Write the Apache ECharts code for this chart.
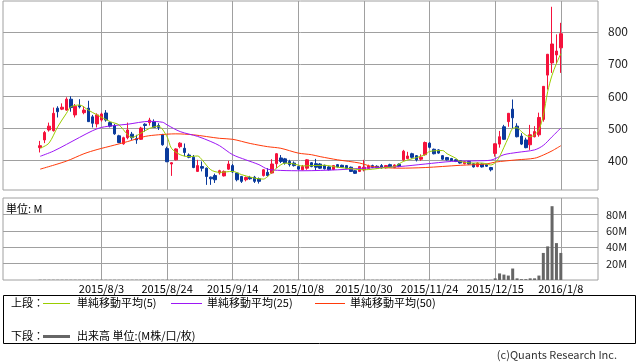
<!DOCTYPE html>
<html><head><meta charset="utf-8">
<script src="https://cdn.jsdelivr.net/npm/echarts@6/dist/echarts.min.js"></script>
<style>html,body{margin:0;padding:0;background:#fff}#c{width:638px;height:362px}</style>
</head><body><div id="c"></div><script>
const dates = [
'2015/7/13','2015/7/14','2015/7/15','2015/7/16','2015/7/17','2015/7/21','2015/7/22','2015/7/23','2015/7/24','2015/7/27','2015/7/28','2015/7/29','2015/7/30','2015/7/31',
'2015/8/3','2015/8/4','2015/8/5','2015/8/6','2015/8/7','2015/8/10','2015/8/11','2015/8/12','2015/8/13','2015/8/14','2015/8/17','2015/8/18','2015/8/19','2015/8/20','2015/8/21','2015/8/24','2015/8/25','2015/8/26','2015/8/27','2015/8/28','2015/8/31',
'2015/9/1','2015/9/2','2015/9/3','2015/9/4','2015/9/7','2015/9/8','2015/9/9','2015/9/10','2015/9/11','2015/9/14','2015/9/15','2015/9/16','2015/9/17','2015/9/18','2015/9/24','2015/9/25','2015/9/28','2015/9/29','2015/9/30',
'2015/10/1','2015/10/2','2015/10/5','2015/10/6','2015/10/7','2015/10/8','2015/10/9','2015/10/13','2015/10/14','2015/10/15','2015/10/16','2015/10/19','2015/10/20','2015/10/21','2015/10/22','2015/10/23','2015/10/26','2015/10/27','2015/10/28','2015/10/29','2015/10/30',
'2015/11/2','2015/11/4','2015/11/5','2015/11/6','2015/11/9','2015/11/10','2015/11/11','2015/11/12','2015/11/13','2015/11/16','2015/11/17','2015/11/18','2015/11/19','2015/11/20','2015/11/24','2015/11/25','2015/11/26','2015/11/27','2015/11/30',
'2015/12/1','2015/12/2','2015/12/3','2015/12/4','2015/12/7','2015/12/8','2015/12/9','2015/12/10','2015/12/11','2015/12/14','2015/12/15','2015/12/16','2015/12/17','2015/12/18','2015/12/21','2015/12/22','2015/12/24','2015/12/25','2015/12/28','2015/12/29','2015/12/30',
'2016/1/4','2016/1/5','2016/1/6','2016/1/7','2016/1/8'
];
// [open, close, low, high]
const ohlc = [
[439,445,424,460],[463,486,453,491],[494,506,489,517],[492,546,489,564],[562,551,533,568],
[559,565,556,577],[556,590,554,596],[590,564,551,599],[541,568,533,575],[570,566,561,590],
[548,556,543,568],[562,520,520,585],[535,515,502,541],[513,541,502,546],[525,544,520,548],
[547,525,520,556],[517,506,502,520],[508,482,479,513],[476,455,453,479],[451,470,448,473],
[470,494,465,517],[481,470,463,488],[467,463,451,479],[465,500,463,504],[512,508,489,515],
[517,525,508,532],[520,502,502,527],[508,502,494,515],[479,448,445,482],[436,395,394,442],
[388,392,351,394],[401,435,399,437],[442,453,437,456],[437,424,412,452],[416,409,406,421],
[409,377,375,416],[365,383,363,401],[380,375,365,396],[375,349,323,377],[347,342,323,349],
[352,339,329,358],[360,367,355,370],[351,365,349,368],[372,388,370,398],[383,363,360,388],
[360,339,334,363],[349,334,329,351],[339,346,334,349],[346,342,339,351],[347,334,329,351],
[342,334,327,346],[352,370,349,372],[362,352,349,375],[360,388,358,403],[389,420,375,422],
[407,396,391,416],[404,391,386,407],[396,386,380,401],[391,383,380,396],[380,372,370,383],
[370,380,368,385],[375,401,370,403],[392,380,378,394],[389,378,368,404],[388,375,373,391],
[384,373,371,386],[379,370,368,381],[371,383,369,385],[386,379,377,388],[384,378,376,386],
[383,374,372,385],[378,365,363,380],[367,359,357,369],[365,380,363,382],[370,378,365,401],
[374,382,372,386],[383,377,375,386],[381,376,374,384],[383,376,373,388],[376,383,374,385],
[386,379,377,389],[377,385,375,387],[387,380,378,390],[401,428,397,432],[405,413,403,426],
[420,409,405,423],[414,401,396,416],[403,409,398,418],[417,455,414,458],[453,440,437,456],
[434,420,418,436],[432,422,420,434],[414,403,401,416],[408,401,399,410],[405,399,397,407],
[401,396,394,403],[398,391,389,400],[389,395,387,397],[396,388,386,398],[389,379,377,391],
[380,391,378,393],[388,379,377,390],[386,381,379,389],[377,370,365,379],[421,451,411,452],
[450,473,439,491],[504,465,463,510],[520,546,504,547],[559,532,499,589],[506,473,471,515],
[475,450,447,484],[463,439,437,470],[448,479,432,510],[473,489,471,506],[479,533,473,548],
[527,630,520,631],[665,730,620,731],[703,762,672,878],[728,740,701,792],[750,794,672,828]
];
// volume in M
const volume = [
0.3,0.3,0.3,0.3,0.3,0.3,0.3,0.3,0.3,0.3,0.3,0.3,0.3,0.3,0.3,0.3,0.3,0.3,0.3,0.3,
0.3,0.3,0.3,0.3,0.3,0.3,0.3,0.3,0.3,0.3,0.3,0.3,0.3,0.3,0.3,0.3,0.3,0.3,0.3,0.3,
0.3,0.3,0.3,0.3,0.3,0.3,0.3,0.3,0.3,0.3,0.3,0.3,0.3,0.3,0.3,0.3,0.3,0.3,0.3,0.3,
0.3,0.3,0.3,0.3,0.3,0.3,0.3,0.3,0.3,0.3,0.3,0.3,0.3,0.3,0.3,0.3,0.3,0.3,0.3,0.3,
0.3,0.3,0.3,0.3,0.3,0.3,0.3,0.3,0.3,0.3,0.3,0.3,0.3,0.3,0.3,0.3,0.3,0.3,0.3,0.3,
0.3,0.3,0.3,0.3,2,8,6.6,5.4,14,2,1,1,2,2,5.4,33,41,90,45,33
];
// moving averages: [dayIndex, value]
const ma5 = [[0,437],[2,453],[4,504],[6,546],[7,566],[9,572],[11,556],[13,541],[16,520],[18,510],[20,479],[21,471],[23,484],[25,499],[27,506],[29,473],[30,437],[32,417],[34,411],[36,413],[37,401],[39,370],[41,362],[44,365],[46,355],[49,344],[51,341],[52,349],[54,375],[56,391],[58,388],[60,382],[62,383],[65,384],[68,378],[72,372],[74,370],[76,372],[79,377],[81,380],[83,396],[86,408],[88,417],[89,427],[92,430],[93,420],[95,406],[96,396],[99,391],[101,391],[103,385],[104,392],[105,411],[106,440],[107,470],[108,499],[109,501],[110,489],[111,478],[112,473],[113,479],[114,495],[115,539],[116,614],[117,665],[118,701],[119,732]];
const ma25 = [[0,412],[3,428],[6,449],[9,471],[12,492],[14,502],[17,508],[20,512],[25,521],[28,518],[29,510],[32,489],[36,474],[39,458],[41,445],[44,417],[47,401],[50,386],[52,372],[55,368],[60,367],[68,370],[74,375],[82,380],[88,388],[94,396],[100,398],[103,400],[106,417],[109,424],[113,432],[115,446],[117,473],[119,500]];
const ma50 = [[0,372],[6,397],[10,420],[13,433],[17,447],[20,458],[24,474],[27,479],[31,482],[35,479],[41,468],[44,465],[48,452],[52,442],[55,437],[59,422],[62,417],[64,411],[68,401],[73,391],[76,380],[82,375],[88,377],[96,384],[102,388],[104,394],[109,401],[113,406],[115,416],[117,429],[119,445]];
const priceTicks = [400,500,600,700,800];
const volumeTicks = [20,40,60,80];
const labelDates = ['2015/8/3','2015/8/24','2015/9/14','2015/10/8','2015/10/30','2015/11/24','2015/12/15','2016/1/8'];

const PADL = 8, PADR = 8;
const cats = [];
for (let k = 0; k < PADL; k++) cats.push('padL' + k);
dates.forEach(d => cats.push(d));
for (let k = 0; k < PADR; k++) cats.push('padR' + k);
const gridIdx = labelDates.map(d => dates.indexOf(d));
const N = cats.length;

const FONT = '"Noto Sans CJK JP", "Noto Sans", sans-serif';
const GRID = '#a0a0a0';
const RED = '#f5123c', BLUE = '#0a3a9c';

const chart = echarts.init(document.getElementById('c'), null, {renderer: 'canvas'});
const catAxis = (gi, labels) => ({
  type: 'category', gridIndex: gi, data: cats, boundaryGap: true,
  axisLine: {show: false}, axisTick: {show: false}, splitLine: {show: false},
  axisLabel: labels ? {
    show: true, interval: (idx, val) => labelDates.indexOf(val) >= 0,
    fontFamily: FONT, fontSize: 11, color: '#000', margin: 3
  } : {show: false}
});
const vAxis = gi => ({
  type: 'value', gridIndex: gi, min: -PADL - 0.5, max: dates.length - 1 + PADR + 0.5,
  axisLine: {show: false}, axisLabel: {show: false},
  axisTick: {show: false, customValues: gridIdx},
  splitLine: {show: true, lineStyle: {color: GRID, width: 1}}
});
chart.setOption({
  animation: false,
  backgroundColor: '#fff',
  grid: [
    {left: 3, top: 1, width: 595, height: 189, show: true, borderColor: GRID, borderWidth: 1},
    {left: 3, top: 198, width: 595, height: 82, show: true, borderColor: GRID, borderWidth: 1}
  ],
  xAxis: [catAxis(0, false), vAxis(0), catAxis(1, true), vAxis(1)],
  yAxis: [
    {type: 'value', gridIndex: 0, position: 'right', min: 307, max: 896,
     axisLine: {show: false}, axisTick: {show: false, customValues: priceTicks},
     axisLabel: {customValues: priceTicks, fontFamily: FONT, fontSize: 12, color: '#222', margin: 10},
     splitLine: {show: true, lineStyle: {color: GRID, width: 1}}},
    {type: 'value', gridIndex: 1, position: 'right', min: 0, max: 100,
     axisLine: {show: false}, axisTick: {show: false, customValues: volumeTicks},
     axisLabel: {customValues: volumeTicks, formatter: '{value}M', fontFamily: FONT, fontSize: 11, color: '#222', margin: 8},
     splitLine: {show: true, lineStyle: {color: GRID, width: 1}}}
  ],
  series: [
    {type: 'candlestick', xAxisIndex: 0, yAxisIndex: 0, barWidth: 3,
     data: ohlc.map((d, i) => [PADL + i, d[0], d[1], d[2], d[3]]),
     encode: {x: 0, y: [1, 2, 3, 4]},
     itemStyle: {color: RED, color0: BLUE, borderColor: RED, borderColor0: BLUE, borderWidth: 1}},
    {type: 'line', xAxisIndex: 0, yAxisIndex: 0, data: ma50.map(p => [PADL + p[0], p[1]]),
     showSymbol: false, lineStyle: {color: '#ff3a0a', width: 1}, itemStyle: {color: '#ff3a0a'}, smooth: 0.3},
    {type: 'line', xAxisIndex: 0, yAxisIndex: 0, data: ma25.map(p => [PADL + p[0], p[1]]),
     showSymbol: false, lineStyle: {color: '#9d17f5', width: 1}, itemStyle: {color: '#9d17f5'}, smooth: 0.3},
    {type: 'line', xAxisIndex: 0, yAxisIndex: 0, data: ma5.map(p => [PADL + p[0], p[1]]),
     showSymbol: false, lineStyle: {color: '#9acd00', width: 1}, itemStyle: {color: '#9acd00'}, smooth: 0.3},
    {type: 'bar', xAxisIndex: 2, yAxisIndex: 1, barWidth: 3,
     data: volume.map((v, i) => [PADL + i, v]), itemStyle: {color: '#666'}}
  ],
  graphic: [
    {type: 'text', left: 6, top: 203, style: {text: '単位: M', font: '11px ' + FONT, fill: '#000'}},
    {type: 'rect', shape: {x: 3.5, y: 295.5, width: 632, height: 48}, style: {fill: 'none', stroke: '#000', lineWidth: 1}},
    {type: 'text', left: 11, top: 297, style: {text: '上段：', font: '11px ' + FONT, fill: '#000'}},
    {type: 'line', shape: {x1: 43, y1: 303.5, x2: 70, y2: 303.5}, style: {stroke: '#9acd00', lineWidth: 1}},
    {type: 'text', left: 77, top: 297, style: {text: '単純移動平均(5)', font: '11px ' + FONT, fill: '#000'}},
    {type: 'line', shape: {x1: 171, y1: 303.5, x2: 202, y2: 303.5}, style: {stroke: '#9d17f5', lineWidth: 1}},
    {type: 'text', left: 207, top: 297, style: {text: '単純移動平均(25)', font: '11px ' + FONT, fill: '#000'}},
    {type: 'line', shape: {x1: 315, y1: 303.5, x2: 345, y2: 303.5}, style: {stroke: '#ff3a0a', lineWidth: 1}},
    {type: 'text', left: 350, top: 297, style: {text: '単純移動平均(50)', font: '11px ' + FONT, fill: '#000'}},
    {type: 'text', left: 11, top: 330, style: {text: '下段：', font: '11px ' + FONT, fill: '#000'}},
    {type: 'rect', shape: {x: 43, y: 335, width: 27, height: 3}, style: {fill: '#666'}},
    {type: 'text', left: 77, top: 330, style: {text: '出来高 単位:(M株/口/枚)', font: '11px ' + FONT, fill: '#000'}},
    {type: 'text', right: 21, top: 349, style: {text: '(c)Quants Research Inc.', font: '11px ' + FONT, fill: '#333'}}
  ]
});
</script></body></html>
